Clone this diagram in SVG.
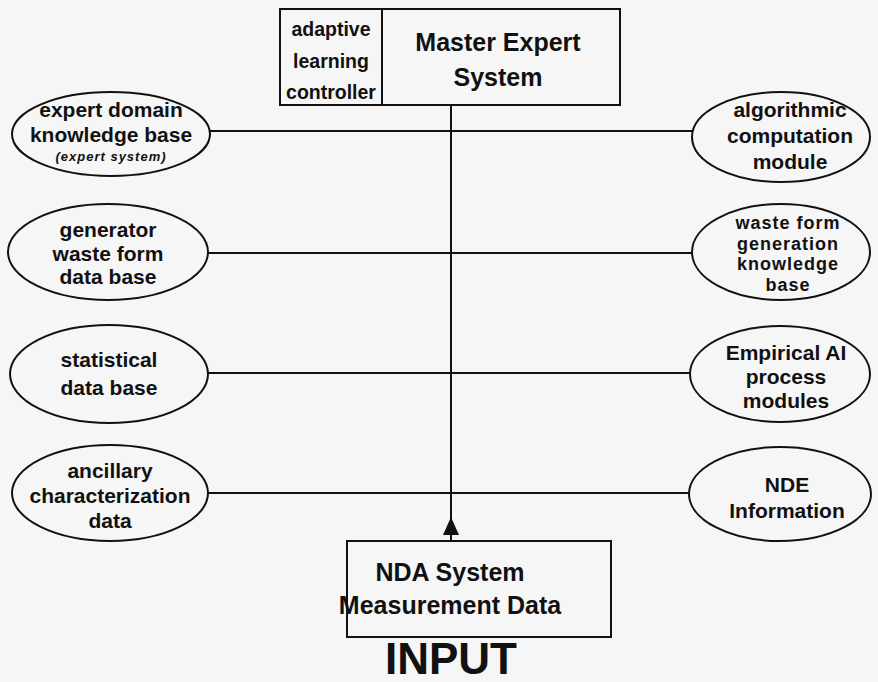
<svg xmlns="http://www.w3.org/2000/svg" width="878" height="682" viewBox="0 0 878 682">
<defs>
<style>
.t{font-family:"Liberation Sans",Arial,sans-serif;font-weight:bold;fill:#111;text-anchor:middle}
.n{font-size:21px}
.w{font-size:18px;letter-spacing:1px}
.s{font-size:13px;font-style:italic;letter-spacing:1px}
.a{font-size:19.5px}
.b{fill:none;stroke:#111;stroke-width:2}
.c{stroke:#111;stroke-width:2;fill:none}
</style>
</defs>
<rect width="878" height="682" fill="#f6f6f6"/>
<g id="connectors">
<line class="c" x1="210" y1="131" x2="692" y2="131"/>
<line class="c" x1="207" y1="253" x2="692" y2="253"/>
<line class="c" x1="208" y1="373" x2="690" y2="373"/>
<line class="c" x1="207" y1="493" x2="689" y2="493"/>
<line class="c" x1="451" y1="106" x2="451" y2="541"/>
<polygon points="451,517 443,535 459,535" fill="#111"/>
</g>
<g id="adaptive">
<rect class="b" x="280" y="9" width="102" height="96"/>
<text class="t a" x="331" y="36">adaptive</text>
<text class="t a" x="331" y="68">learning</text>
<text class="t a" x="331" y="99">controller</text>
</g>
<g id="master">
<rect class="b" x="382" y="9" width="238" height="96"/>
<text class="t" style="font-size:25px" x="498" y="51">Master Expert</text>
<text class="t" style="font-size:25px" x="498" y="86">System</text>
</g>
<g id="expert">
<ellipse class="b" cx="111" cy="134" rx="99" ry="42"/>
<text class="t n" x="111" y="117">expert domain</text>
<text class="t n" x="111" y="142">knowledge base</text>
<text class="t s" x="111" y="161">(expert system)</text>
</g>
<g id="generator">
<ellipse class="b" cx="108" cy="252" rx="100" ry="48"/>
<text class="t n" x="108" y="237">generator</text>
<text class="t n" x="108" y="261">waste form</text>
<text class="t n" x="108" y="284">data base</text>
</g>
<g id="statistical">
<ellipse class="b" cx="109" cy="374" rx="99" ry="49"/>
<text class="t n" x="109" y="367">statistical</text>
<text class="t n" x="109" y="395">data base</text>
</g>
<g id="ancillary">
<ellipse class="b" cx="110" cy="493" rx="98" ry="48"/>
<text class="t n" x="110" y="478">ancillary</text>
<text class="t n" x="110" y="503">characterization</text>
<text class="t n" x="110" y="528">data</text>
</g>
<g id="algorithmic">
<ellipse class="b" cx="781" cy="137" rx="89" ry="45"/>
<text class="t n" x="790" y="117">algorithmic</text>
<text class="t n" x="790" y="143">computation</text>
<text class="t n" x="790" y="169">module</text>
</g>
<g id="wasteform">
<ellipse class="b" cx="781" cy="252" rx="89" ry="48"/>
<text class="t w" x="788" y="229">waste form</text>
<text class="t w" x="788" y="249.5">generation</text>
<text class="t w" x="788" y="270">knowledge</text>
<text class="t w" x="788" y="290.5">base</text>
</g>
<g id="empirical">
<ellipse class="b" cx="780" cy="374" rx="90" ry="48"/>
<text class="t n" x="786" y="360">Empirical AI</text>
<text class="t n" x="786" y="384">process</text>
<text class="t n" x="786" y="408">modules</text>
</g>
<g id="nde">
<ellipse class="b" cx="780" cy="494" rx="91" ry="47"/>
<text class="t n" x="787" y="492">NDE</text>
<text class="t n" x="787" y="518">Information</text>
</g>
<g id="nda">
<rect class="b" x="347" y="541" width="264" height="96"/>
<text class="t" style="font-size:25px" x="450" y="581">NDA System</text>
<text class="t" style="font-size:25px" x="450" y="614">Measurement Data</text>
</g>
<text class="t" style="font-size:44px" x="451" y="674">INPUT</text>
</svg>
